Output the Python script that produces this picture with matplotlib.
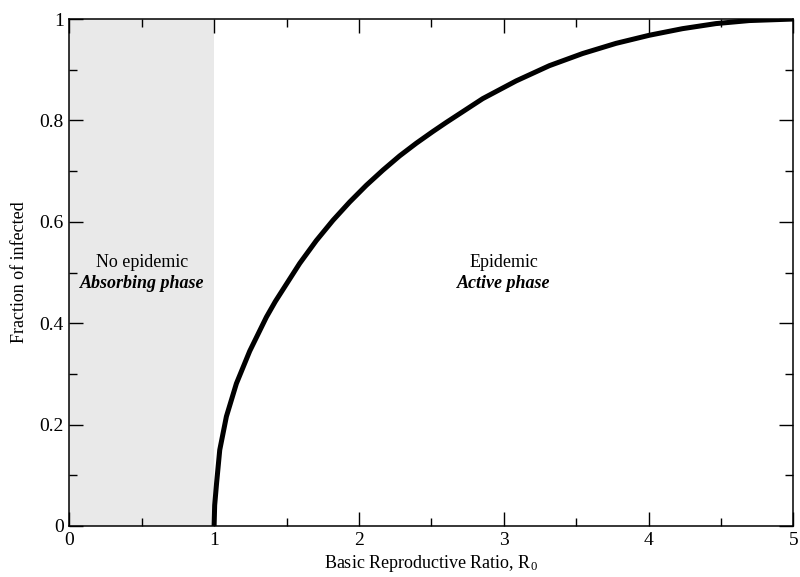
import matplotlib
matplotlib.use("Agg")
import matplotlib.pyplot as plt
from matplotlib.ticker import MultipleLocator

plt.rcParams['font.family'] = ['Liberation Serif', 'DejaVu Serif']
plt.rcParams['mathtext.fontset'] = 'custom'
plt.rcParams['mathtext.rm'] = 'Liberation Serif'
plt.rcParams['mathtext.it'] = 'Liberation Serif:italic'

# values
r0 = [1.0, 1.004, 1.017, 1.039, 1.085, 1.154, 1.246, 1.361, 1.423, 1.591,
      1.706, 1.821, 1.936, 2.051, 2.166, 2.281, 2.396, 2.510, 2.603, 2.855,
      3.086, 3.315, 3.545, 3.775, 4.005, 4.234, 4.465, 4.695, 5.0]
infected = [0.0, 0.041, 0.084, 0.150, 0.216, 0.281, 0.345, 0.412, 0.443, 0.518,
            0.563, 0.603, 0.639, 0.672, 0.702, 0.730, 0.755, 0.778, 0.796, 0.843,
            0.878, 0.908, 0.932, 0.952, 0.968, 0.981, 0.991, 0.997, 1.0]

x_ticks = [0, 1, 2, 3, 4, 5]
y_ticks = [0, 0.2, 0.4, 0.6, 0.8, 1]
y_labels = ["0", "0.2", "0.4", "0.6", "0.8", "1"]
threshold = 1.0

fig = plt.figure(figsize=(8, 5.77), dpi=100)
ax = fig.add_axes([0.0866, 0.0884, 0.9051, 0.8786])

ax.axvspan(0, threshold, color="#e9e9e9", lw=0, zorder=0)
ax.plot(r0, infected, color="black", lw=3.6, solid_capstyle="butt",
        solid_joinstyle="round", zorder=3)

ax.text(0.5, 0.519, "No epidemic", ha="center", va="center", fontsize=13)
ax.text(0.5, 0.479, "Absorbing phase", ha="center", va="center", fontsize=13,
        fontweight="bold", style="italic")
ax.text(3.0, 0.519, "Epidemic", ha="center", va="center", fontsize=13)
ax.text(3.0, 0.479, "Active phase", ha="center", va="center", fontsize=13,
        fontweight="bold", style="italic")

ax.set_xlim(0, 5)
ax.set_ylim(0, 1)
ax.set_xticks(x_ticks)
ax.set_yticks(y_ticks)
ax.set_yticklabels(y_labels)
ax.xaxis.set_minor_locator(MultipleLocator(0.5))
ax.yaxis.set_minor_locator(MultipleLocator(0.1))
ax.tick_params(which="both", direction="in", top=True, right=True, labelsize=14, width=1.0)
ax.tick_params(which="major", length=10, pad=4)
ax.tick_params(which="minor", length=5.5)
for s in ax.spines.values():
    s.set_linewidth(1.1)

ax.set_xlabel("Basic Reproductive Ratio, R$_0$", fontsize=13, labelpad=3)
ax.set_ylabel("Fraction of infected", fontsize=13, labelpad=8)

fig.savefig("out.png", dpi=100)
